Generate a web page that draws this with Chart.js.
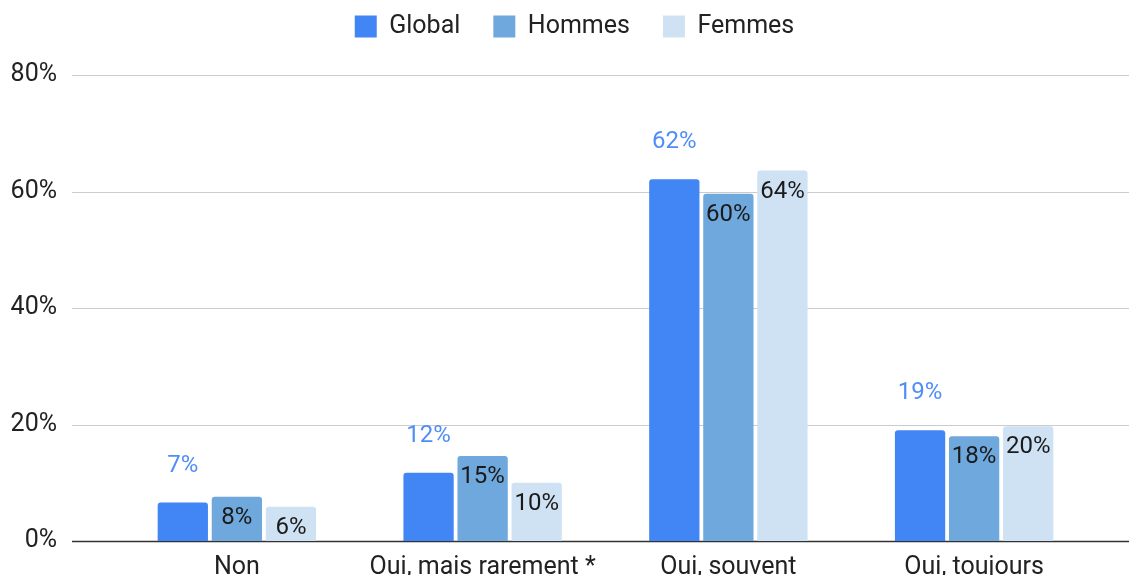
<!DOCTYPE html>
<html>
<head>
<meta charset="utf-8">
<script src="https://cdn.jsdelivr.net/npm/chart.js@4/dist/chart.umd.min.js"></script>
<style>
  html, body { margin: 0; padding: 0; background: #fff; }
  canvas { display: block; }
</style>
</head>
<body>
<canvas id="chart" width="1129" height="575"></canvas>
<script>
// Données
const categories = ["Non", "Oui, mais rarement *", "Oui, souvent", "Oui, toujours"];
const seriesNames = ["Global", "Hommes", "Femmes"];
const globalValues = [6.6, 11.7, 62.1, 19.0];
const hommesValues = [7.6, 14.6, 59.6, 18.0];
const femmesValues = [5.9, 10.0, 63.6, 19.7];
const yTicks = [0, 20, 40, 60, 80];

const couleurs = ["#4285F4", "#6FA8DC", "#CFE2F3"];
const police = "Roboto, 'Liberation Sans', Arial, sans-serif";

// Lignes de grille plus larges que la zone de tracé (comme l'original)
const grillePlugin = {
  id: "grille",
  beforeDatasetsDraw(chart) {
    const ctx = chart.ctx;
    const y = chart.scales.y;
    ctx.save();
    yTicks.forEach(v => {
      const py = Math.round(y.getPixelForValue(v)) + 0.5;
      ctx.beginPath();
      ctx.strokeStyle = v === 0 ? "#333333" : "#cccccc";
      ctx.lineWidth = v === 0 ? 1.6 : 1.2;
      ctx.moveTo(chart.chartArea.left - 42, py);
      ctx.lineTo(chart.width, py);
      ctx.stroke();
    });
    ctx.restore();
  }
};

// Étiquettes de valeurs
const etiquettesPlugin = {
  id: "etiquettes",
  afterDatasetsDraw(chart) {
    const ctx = chart.ctx;
    ctx.save();
    ctx.font = "24px " + police;
    ctx.textAlign = "center";
    ctx.textBaseline = "middle";
    chart.data.datasets.forEach((ds, i) => {
      const meta = chart.getDatasetMeta(i);
      meta.data.forEach((bar, j) => {
        const txt = Math.round(ds.data[j]) + "%";
        if (i === 0) {
          ctx.fillStyle = "#4F8EF6";
          ctx.fillText(txt, bar.x, bar.y - 37);
        } else {
          ctx.fillStyle = "#1a1a1a";
          ctx.fillText(txt, bar.x, bar.y + 21);
        }
      });
    });
    ctx.restore();
  }
};

// Hauteur fixe de la légende, puis petit décalage de position
const legendeEspace = {
  id: "legendeEspace",
  beforeInit(chart) {
    const fit = chart.legend.fit;
    chart.legend.fit = function () {
      fit.bind(chart.legend)();
      this.height = 75;
    };
  },
  afterLayout(chart) {
    const lg = chart.legend;
    lg.left += 21;
    lg.right += 21;
    lg.top -= 19;
    lg.bottom -= 19;
  }
};

const valeurs = [globalValues, hommesValues, femmesValues];

new Chart(document.getElementById("chart"), {
  type: "bar",
  data: {
    labels: categories,
    datasets: seriesNames.map((nom, i) => ({
      label: nom,
      data: valeurs[i],
      backgroundColor: couleurs[i],
      borderRadius: { topLeft: 3, topRight: 3, bottomLeft: 0, bottomRight: 0 },
      borderSkipped: "bottom",
      categoryPercentage: 0.66,
      barPercentage: 0.93
    }))
  },
  options: {
    responsive: false,
    animation: false,
    devicePixelRatio: 1,
    layout: { padding: { top: 0, left: 10, right: 32, bottom: 0 } },
    plugins: {
      legend: {
        position: "top",
        labels: {
          font: { family: police, size: 25 },
          color: "#222222",
          boxWidth: 22,
          boxHeight: 22,
          padding: 33
        }
      },
      tooltip: { enabled: false }
    },
    scales: {
      x: {
        afterFit(axis) { axis.height = 34; },
        grid: { display: false, drawTicks: false },
        border: { display: false },
        ticks: {
          font: { family: police, size: 25 },
          color: "#222222",
          padding: 12,
          maxRotation: 0,
          autoSkip: false
        }
      },
      y: {
        min: 0,
        max: 80,
        afterBuildTicks(axis) {
          axis.ticks = yTicks.map(v => ({ value: v }));
        },
        afterFit(axis) {
          axis.width = 104;
          axis.paddingTop = 0;
          axis.paddingBottom = 0;
        },
        grid: { display: false, drawTicks: false },
        border: { display: false },
        ticks: {
          font: { family: police, size: 25 },
          color: "#222222",
          padding: 57,
          callback: v => v + "%"
        }
      }
    }
  },
  plugins: [grillePlugin, etiquettesPlugin, legendeEspace]
});
</script>
</body>
</html>
